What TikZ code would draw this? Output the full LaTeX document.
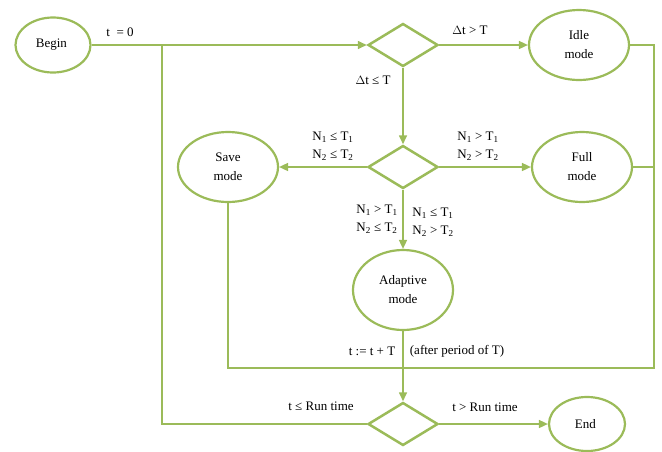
\documentclass[tikz,border=0pt]{standalone}
\usepackage{fontspec}
\setmainfont{Liberation Serif}
\usepackage{tikz}
\usetikzlibrary{arrows.meta}
\usetikzlibrary{positioning}
\usetikzlibrary{shapes.geometric,calc}
\definecolor{leaf}{HTML}{9BBB59}
\tikzset{
    mode/.style={
           ellipse,
           draw=leaf, line width=2.2pt,
           minimum width=100pt,
           minimum height=70pt,
           inner sep=0pt,
           align=center,
           font=\fontsize{13}{19}\selectfont,
           },
    check/.style={
           diamond,
           draw=leaf, line width=2.5pt,
           minimum width=70pt,
           minimum height=43pt,
           inner sep=0pt,
           },
    cond/.style={
           inner sep=0pt,
           align=center,
           font=\fontsize{13}{18}\selectfont,
           },
    wire/.style={
           draw=leaf, line width=1.6pt,
           },
    flow/.style={
           wire,
           -{Triangle[length=9pt,width=8pt,fill=leaf]},
           }
}
\begin{document}
\begin{tikzpicture}
[
x=1pt,y=1pt
]
 \useasboundingbox (0,0) rectangle (662,-451);

 % Start node
 \node[mode,
 minimum width=75pt,
 minimum height=55pt] (BEGIN) at (53,-45)
 {%
Begin
 };

 % first test: elapsed time
 \node[check,
 right of=BEGIN,
 node distance=350pt] (TEST1) {};

 \node[mode,
 right of=TEST1,
 node distance=176pt] (IDLE)
 {%
Idle\\mode
 };

 % second test: N1, N2
 \node[check,
 below of=TEST1,
 node distance=122pt] (TEST2) {};

 \node[mode,
 left of=TEST2,
 node distance=175pt] (SAVE)
 {%
Save\\mode
 };

 \node[mode,
 right of=TEST2,
 node distance=179pt] (FULL)
 {%
Full\\mode
 };

 \node[mode,
 below of=TEST2,
 minimum height=80pt,
 node distance=123pt] (ADAPT)
 {%
Adaptive\\mode
 };

 % last test: run time
 \node[check,
 below of=ADAPT,
 node distance=134pt] (TEST3) {};

 \node[mode,
 minimum width=76pt,
 minimum height=54pt,
 right of=TEST3,
 node distance=184pt] (END)
 {%
End
 };

 % corners of the feedback lines
 \coordinate (LOOPL) at (228,-368);
 \coordinate (LOOPR) at (654,-368);
 \coordinate (BACK) at (162,-45);

 % draw the paths
 \path[flow]
 (BEGIN) edge (TEST1)
 (TEST1) edge (IDLE)
 (TEST1) edge (TEST2)
 (TEST2) edge (SAVE)
 (TEST2) edge (FULL)
 (TEST2) edge (ADAPT)
 (ADAPT) edge (TEST3)
 (TEST3) edge (END)
 ;

 \draw[wire] (IDLE) -| (LOOPR) -- (LOOPL) -- (SAVE);
 \draw[wire] (FULL) -- (FULL -| LOOPR);
 \draw[wire] (TEST3) -| (BACK);

 % labels
 \node[cond] (L0) at (120,-32) {t~~= 0};
 \node[cond] (L1) at (470,-30) {$\Delta$t > T};
 \node[cond] (L2) at (373,-80) {$\Delta$t ≤ T};
 \node[cond] (L3) at (333,-146) {N\textsubscript{1} ≤ T\textsubscript{1}\\N\textsubscript{2} ≤ T\textsubscript{2}};
 \node[cond] (L4) at (478,-146) {N\textsubscript{1} > T\textsubscript{1}\\N\textsubscript{2} > T\textsubscript{2}};
 \node[cond] (L5) at (377,-219) {N\textsubscript{1} > T\textsubscript{1}\\N\textsubscript{2} ≤ T\textsubscript{2}};
 \node[cond] (L6) at (433,-222) {N\textsubscript{1} ≤ T\textsubscript{1}\\N\textsubscript{2} > T\textsubscript{2}};
 \node[cond] (L7) at (372,-351) {t := t + T};
 \node[cond] (L8) at (457,-351) {(after period of T)};
 \node[cond] (L9) at (321,-406) {t ≤ Run time};
 \node[cond] (L10) at (485,-407) {t > Run time};

\end{tikzpicture}
\end{document}
